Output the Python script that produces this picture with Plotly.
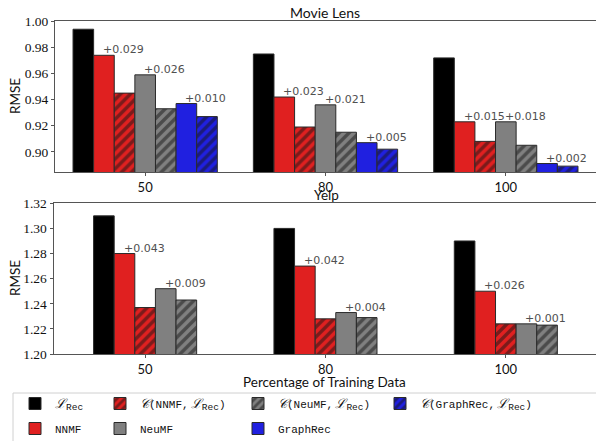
import plotly.graph_objects as go

# ---------------- data ----------------
groups = [0, 1, 2]
group_labels = ["50", "80", "100"]

ml_lrec = [0.994, 0.975, 0.972]
ml_nnmf = [0.974, 0.942, 0.923]
ml_c_nnmf = [0.945, 0.919, 0.908]
ml_neumf = [0.959, 0.936, 0.923]
ml_c_neumf = [0.933, 0.915, 0.905]
ml_graphrec = [0.937, 0.907, 0.891]
ml_c_graphrec = [0.927, 0.902, 0.889]

ml_nnmf_gain = ["+0.029", "+0.023", "+0.015"]
ml_neumf_gain = ["+0.026", "+0.021", "+0.018"]
ml_graphrec_gain = ["+0.010", "+0.005", "+0.002"]

yelp_lrec = [1.310, 1.300, 1.290]
yelp_nnmf = [1.280, 1.270, 1.250]
yelp_c_nnmf = [1.237, 1.228, 1.224]
yelp_neumf = [1.252, 1.233, 1.224]
yelp_c_neumf = [1.243, 1.229, 1.223]

yelp_nnmf_gain = ["+0.043", "+0.042", "+0.026"]
yelp_neumf_gain = ["+0.009", "+0.004", "+0.001"]

ml_ticks = [0.90, 0.92, 0.94, 0.96, 0.98, 1.00]
yelp_ticks = [1.20, 1.22, 1.24, 1.26, 1.28, 1.30, 1.32]

# ---------------- styles ----------------
FW = 596
H = 441
BAR_W = 0.8 / 7
RED = "#e02020"
GRAY = "#808080"
BLUE = "#2020e0"
BLACK = "#000000"
EDGE = "#2a2a2a"
SANS = "Lato"
SERIF = "Liberation Serif"
MONO = "Liberation Mono"

L_REC = ("<span style=\"font-family:DejaVu Serif;font-style:italic;font-size:13px\">ℒ</span>"
         "<sub><span style=\"font-size:9.5px\">Rec</span></sub>")
CAL_C = "<span style=\"font-family:DejaVu Serif;font-style:italic;font-size:13px\">𝒞</span>"


def cname(model):
    return CAL_C + "(" + model + ",\u2009" + L_REC + ")"


series_style = {
    "lrec": dict(name=L_REC, color=BLACK, hatch=False, legend="legend"),
    "nnmf": dict(name="NNMF", color=RED, hatch=False, legend="legend"),
    "c_nnmf": dict(name=cname("NNMF"), color=RED, hatch=True, legend="legend2"),
    "neumf": dict(name="NeuMF", color=GRAY, hatch=False, legend="legend2"),
    "c_neumf": dict(name=cname("NeuMF"), color=GRAY, hatch=True, legend="legend3"),
    "graphrec": dict(name="GraphRec", color=BLUE, hatch=False, legend="legend3"),
    "c_graphrec": dict(name=cname("GraphRec"), color=BLUE, hatch=True, legend="legend4"),
}

ml_series = [("lrec", ml_lrec), ("nnmf", ml_nnmf), ("c_nnmf", ml_c_nnmf),
             ("neumf", ml_neumf), ("c_neumf", ml_c_neumf),
             ("graphrec", ml_graphrec), ("c_graphrec", ml_c_graphrec)]
yelp_series = [("lrec", yelp_lrec), ("nnmf", yelp_nnmf), ("c_nnmf", yelp_c_nnmf),
               ("neumf", yelp_neumf), ("c_neumf", yelp_c_neumf)]

fig = go.Figure()
shown = set()
annotations = []


def add_panel(series, xa, ya, gains):
    n = len(series)
    offsets = {}
    for i, (key, vals) in enumerate(series):
        st = series_style[key]
        off = -n * BAR_W / 2 + i * BAR_W
        offsets[key] = off
        marker = dict(color=st["color"], line=dict(color=EDGE, width=1))
        if st["hatch"]:
            marker["pattern"] = dict(shape="/", fgcolor="#151515", bgcolor=st["color"],
                                     size=7, solidity=0.5, fillmode="overlay")
        fig.add_trace(go.Bar(
            x=groups, y=vals, width=[BAR_W] * len(groups), offset=off,
            marker=marker, name=st["name"], legend=st["legend"], legendgroup=key,
            showlegend=key not in shown, xaxis=xa, yaxis=ya,
        ))
        shown.add(key)
    for key, vals, labels in gains:
        for g, v, t in zip(groups, vals, labels):
            annotations.append(dict(
                x=g + offsets[key] + BAR_W / 2, y=v, xref=xa, yref=ya,
                text=t, showarrow=False, xanchor="left", yanchor="bottom",
                xshift=-3, yshift=-3,
                font=dict(family="DejaVu Sans", size=11, color="#505050"),
            ))


add_panel(ml_series, "x", "y",
          [("nnmf", ml_nnmf, ml_nnmf_gain), ("neumf", ml_neumf, ml_neumf_gain),
           ("graphrec", ml_graphrec, ml_graphrec_gain)])
add_panel(yelp_series, "x2", "y2",
          [("nnmf", yelp_nnmf, yelp_nnmf_gain), ("neumf", yelp_neumf, yelp_neumf_gain)])


def txt(text, x, y, angle=0, size=14):
    annotations.append(dict(text=text, x=x / FW, y=1 - y / H, xref="paper", yref="paper",
                            showarrow=False, xanchor="center", yanchor="middle",
                            textangle=angle,
                            font=dict(family=SANS, size=size, color="#111")))


txt("Movie Lens", 325, 13)
txt("Yelp", 326, 194.5, size=13.5)
txt("RMSE", 15, 96, angle=-90, size=13.5)
txt("RMSE", 15, 278, angle=-90, size=13.5)
txt("Percentage of Training Data", 324, 382, size=13.5)

axis_common = dict(showline=True, linecolor="#555", linewidth=1, ticks="outside",
                   ticklen=3, tickcolor="#555", showgrid=False, zeroline=False,
                   automargin=False)

fig.update_layout(
    width=FW, height=H,
    margin=dict(l=0, r=0, t=0, b=0, autoexpand=False),
    plot_bgcolor="white", paper_bgcolor="white",
    barmode="overlay",
    annotations=annotations,
    xaxis=dict(domain=[55 / FW, 1], anchor="y", range=[-0.5, 2.5], tickvals=groups,
               ticktext=group_labels, mirror=True,
               tickfont=dict(family=SANS, size=13, color="#111"), **axis_common),
    yaxis=dict(domain=[1 - 172 / H, 1 - 21 / H], anchor="x", range=[0.8845, 1.0003],
               tickvals=ml_ticks, tickformat=".2f",
               tickfont=dict(family=SERIF, size=13.5, color="#111"),
               **axis_common),
    xaxis2=dict(domain=[53.5 / FW, 1], anchor="y2", range=[-0.508, 2.5], tickvals=groups,
                ticktext=group_labels, mirror=True,
                tickfont=dict(family=SANS, size=13, color="#111"),
                **axis_common),
    yaxis2=dict(domain=[1 - 354 / H, 1 - 203.3 / H], anchor="x2", range=[1.2, 1.32],
                tickvals=yelp_ticks, tickformat=".2f",
                tickfont=dict(family=SERIF, size=13.5, color="#111"),
                **axis_common),
    shapes=[dict(type="rect", xref="paper", yref="paper",
                 x0=13 / FW, x1=1.02, y0=-0.02, y1=1 - 393 / H,
                 line=dict(color="#d0d0d0", width=1), fillcolor="rgba(0,0,0,0)")],
)

leg_common = dict(orientation="v", yanchor="top", y=1 - 389 / H, xanchor="left",
                  bgcolor="rgba(0,0,0,0)", borderwidth=0, tracegroupgap=6,
                  font=dict(family=MONO, size=11, color="#111"), itemwidth=30)
fig.update_layout(
    legend=dict(x=15 / FW, **leg_common),
    legend2=dict(x=100 / FW, **leg_common),
    legend3=dict(x=238 / FW, **leg_common),
    legend4=dict(x=380 / FW, **leg_common),
)

fig.write_html(
    "out.html",
    config={"displayModeBar": False},
    post_script="document.body.style.margin='0';document.body.style.overflow='hidden';",
)
